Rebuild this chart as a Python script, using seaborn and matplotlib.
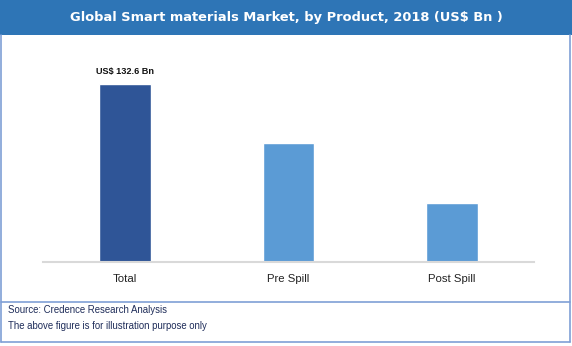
import matplotlib
matplotlib.use("Agg")
import matplotlib.pyplot as plt
from matplotlib.patches import Rectangle
from matplotlib.lines import Line2D
import seaborn as sns
import pandas as pd

categories = ["Total", "Pre Spill", "Post Spill"]
values = [132.6, 88.6, 44.0]
bar_colors = ["#2F5597", "#5B9BD5", "#5B9BD5"]
title = "Global Smart materials Market, by Product, 2018 (US$ Bn )"
value_label = "US$ 132.6 Bn"
source_lines = ["Source: Credence Research Analysis",
                "The above figure is for illustration purpose only"]

W, H = 572, 346
sns.set_theme(style="white")
plt.rcParams["font.family"] = ["Liberation Sans", "DejaVu Sans"]

fig = plt.figure(figsize=(W / 100, H / 100), dpi=100)
fig.patch.set_facecolor("white")

def fx(px):
    return px / W

def fy(py):
    return 1 - py / H

# title banner
fig.patches.append(Rectangle((fx(0), fy(35)), 1, 35 / H, transform=fig.transFigure,
                             facecolor="#2E75B6", edgecolor="none", zorder=0))
fig.text(fx(286), fy(18), title, color="white", fontsize=9.4, fontweight="bold",
         family="DejaVu Sans", ha="center", va="center")

# frame lines
frame_c = "#7F9FD6"
for (x0, y0, x1, y1) in [(1, 35, 1, 342), (570, 35, 570, 342), (1, 342, 570, 342), (1, 302, 570, 302)]:
    fig.add_artist(Line2D([fx(x0), fx(x1)], [fy(y0), fy(y1)], transform=fig.transFigure,
                          color=frame_c, lw=1.2))

ax = fig.add_axes([fx(43), fy(262), fx(534) - fx(43), (262 - 40) / H])
df = pd.DataFrame({"category": categories, "value": values})
sns.barplot(data=df, x="category", y="value", hue="category", palette=bar_colors,
            legend=False, width=0.317, ax=ax, saturation=1)
ax.set_xlim(-0.5, 2.5)
ax.set_ylim(0, 165.4)
ax.set_xlabel("")
ax.set_ylabel("")
ax.set_yticks([])
for s in ["top", "left", "right"]:
    ax.spines[s].set_visible(False)
ax.spines["bottom"].set_color("#D9D9D9")
ax.spines["bottom"].set_linewidth(1.5)
ax.tick_params(axis="x", length=0, pad=9, labelsize=8.2, labelcolor="#222222")
ax.patch.set_alpha(0)

ax.annotate(value_label, (0, values[0]), xytext=(0, 6), textcoords="offset points",
            ha="center", va="bottom", fontsize=6.6, fontweight="bold", color="#111111")

fig.text(fx(8), fy(310), source_lines[0], fontsize=6.9, color="#1F2D5A", va="center")
fig.text(fx(8), fy(326), source_lines[1], fontsize=6.9, color="#1F2D5A", va="center")

fig.savefig("out.png", dpi=100, facecolor="white")
